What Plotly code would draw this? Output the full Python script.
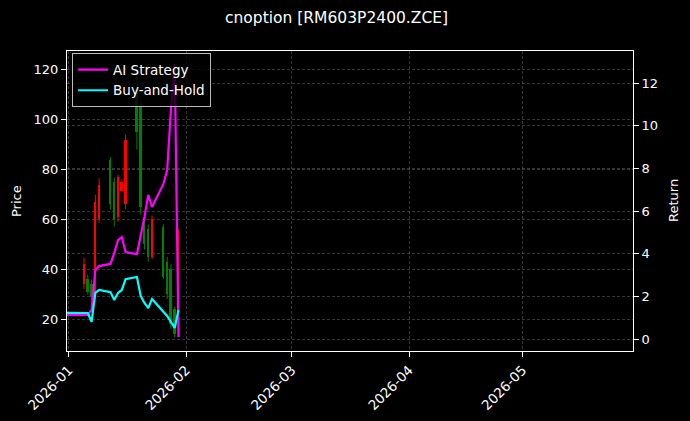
import plotly.graph_objects as go

# ---- data ----
candle_dates = ["2026-01-05", "2026-01-06", "2026-01-07", "2026-01-08", "2026-01-09",
                "2026-01-12", "2026-01-13", "2026-01-14", "2026-01-15", "2026-01-16",
                "2026-01-19", "2026-01-20", "2026-01-21", "2026-01-22", "2026-01-23",
                "2026-01-26", "2026-01-27", "2026-01-28", "2026-01-29", "2026-01-30"]
open_ = [34, 36, 34, 30, 60, 84, 75, 61, 71.5, 66, 112, 105, 60, 56, 45, 57, 43, 40, 24, 32]
high = [44.5, 37.8, 35.9, 70, 76.5, 84.9, 76.8, 78, 76, 94, 122, 107, 60.8, 58, 61.5, 58, 45, 42, 25, 56]
low = [32, 29.8, 27.8, 28, 58.6, 64, 57.1, 59, 70.8, 64, 88, 62, 47.9, 43, 44, 36, 28, 16, 12.6, 30]
close = [42, 31, 29, 67, 74, 66, 60, 77, 75, 92, 95, 65, 50, 45, 60, 37, 30, 18, 14, 54]

line_dates = ["2025-12-31"] + candle_dates
ai_strategy = [1.13, 1.13, 1.13, 1.36, 3.23, 3.42, 3.52, 4.03, 4.64, 4.78, 4.08,
               3.98, 4.83, 5.72, 6.75, 6.19, 7.27, 7.92, 10.74, 12.89, 0.09]
buy_hold = [1.23, 1.23, 1.22, 0.81, 2.16, 2.30, 2.20, 1.83, 2.16, 2.30, 2.81,
            2.91, 2.02, 1.69, 1.45, 1.88, 1.31, 1.08, 0.80, 0.52, 1.36]

x_ticks = ["2026-01-01", "2026-02-01", "2026-03-01", "2026-04-01", "2026-05-01"]
x_range = ["2025-12-31 12:00", "2026-05-30 06:00"]
price_ticks = [20, 40, 60, 80, 100, 120]
return_ticks = [0, 2, 4, 6, 8, 10, 12]

FONT = "DejaVu Sans"
GRID = "rgba(120,120,120,0.45)"
UP, DOWN = "#ff0000", "#008000"
DAY_MS = 86400000

fig = go.Figure()

# candles: wicks as line segments, bodies as thin bars (built from the OHLC arrays)
for is_up, col in ((True, UP), (False, DOWN)):
    idx = [i for i in range(len(candle_dates)) if (close[i] >= open_[i]) == is_up]
    wx, wy = [], []
    for i in idx:
        wx += [candle_dates[i], candle_dates[i], None]
        wy += [low[i], high[i], None]
    fig.add_trace(go.Scatter(x=wx, y=wy, mode="lines", line=dict(color=col, width=1),
                             showlegend=False, hoverinfo="skip", yaxis="y"))
    fig.add_trace(go.Bar(x=[candle_dates[i] for i in idx],
                         y=[abs(close[i] - open_[i]) for i in idx],
                         base=[min(open_[i], close[i]) for i in idx],
                         width=0.5 * DAY_MS, marker=dict(color=col, line=dict(width=0)),
                         showlegend=False, yaxis="y"))

fig.add_trace(go.Scatter(x=line_dates, y=ai_strategy, mode="lines", name="AI Strategy",
                         line=dict(color="#ff00ff", width=2.2), yaxis="y2"))
fig.add_trace(go.Scatter(x=line_dates, y=buy_hold, mode="lines", name="Buy-and-Hold",
                         line=dict(color="#00ffff", width=2.2), yaxis="y2"))

axis_common = dict(showline=True, linecolor="white", linewidth=1, ticks="outside",
                   ticklen=5, tickcolor="white", tickfont=dict(color="white", size=13, family=FONT),
                   showgrid=True, gridcolor=GRID, gridwidth=0.6, griddash="3px,2px",
                   zeroline=False, automargin=False)

fig.update_layout(
    width=690, height=421,
    paper_bgcolor="black", plot_bgcolor="black",
    margin=dict(l=67, r=57, t=51, b=70, autoexpand=False),
    font=dict(family=FONT, color="white", size=13),
    barmode="overlay", bargap=0,
    xaxis=dict(type="date", range=x_range, tickvals=x_ticks, tickformat="%Y-%m",
               tickangle=-45, mirror=True, rangeslider=dict(visible=False),
               **{**axis_common, "tickfont": dict(color="white", size=13.5, family=FONT)}),
    yaxis=dict(range=[7.15, 127.6], tickvals=price_ticks, **axis_common),
    yaxis2=dict(range=[-0.56, 13.5], tickvals=return_ticks, overlaying="y", side="right",
                **axis_common),
    legend=dict(x=0.009, y=0.992, xanchor="left", yanchor="top",
                bgcolor="rgba(0,0,0,0.8)", bordercolor="rgba(220,220,220,0.85)", borderwidth=1,
                font=dict(size=13.5, color="white", family=FONT),
                tracegroupgap=0, itemwidth=30),
    showlegend=True,
    annotations=[
        dict(text="cnoption [RM603P2400.ZCE]", xref="paper", yref="paper",
             x=(336 - 67) / 566, y=1 + (51 - 18) / 300, xanchor="center", yanchor="middle",
             showarrow=False, font=dict(size=15.5, color="white", family=FONT)),
        dict(text="Price", xref="paper", yref="paper", x=(16 - 67) / 566, y=0.5,
             xanchor="center", yanchor="middle", textangle=-90, showarrow=False,
             font=dict(size=13, color="white", family=FONT)),
        dict(text="Return", xref="paper", yref="paper", x=(673 - 67) / 566, y=0.5,
             xanchor="center", yanchor="middle", textangle=-90, showarrow=False,
             font=dict(size=13, color="white", family=FONT)),
    ],
)

fig.write_html("out.html", config={"displayModeBar": False},
               post_script="document.body.style.margin='0';document.body.style.background='black';")
